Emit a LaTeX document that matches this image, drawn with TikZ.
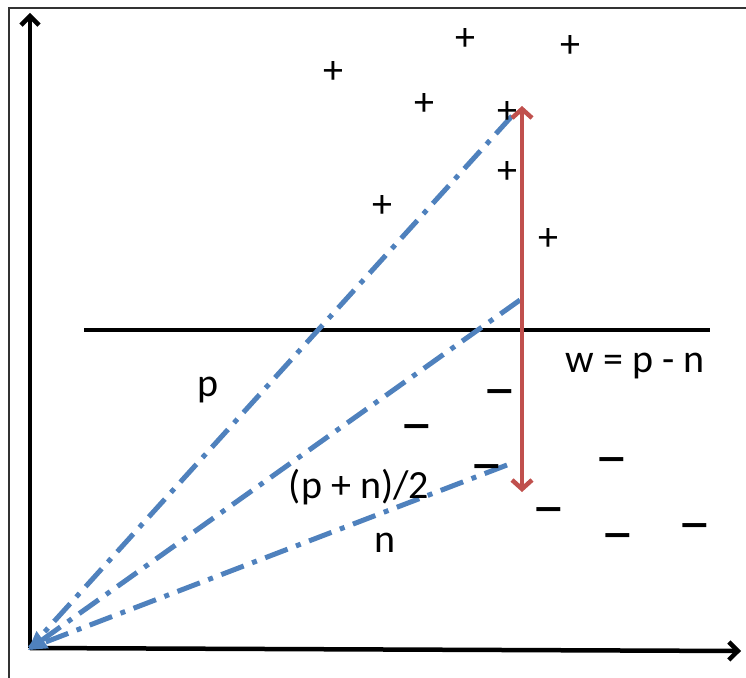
\documentclass[tikz,border=0pt]{standalone}
\usepackage{fontspec}
\setmainfont{Carlito}
\usetikzlibrary{arrows.meta}
\definecolor{offblue}{RGB}{79,129,189}
\definecolor{offred}{RGB}{192,80,77}
\tikzset{
  axis/.style={line width=4.5pt, -{Straight Barb[length=9pt,width=18pt,line width=4.5pt]}},
  vec/.style={offblue, line width=5pt, dash pattern=on 24pt off 9pt on 5pt off 9pt},
  lbl/.style={font=\fontsize{40}{44}\selectfont, inner sep=0pt},
  sym/.style={font=\fontsize{40}{44}\selectfont, inner sep=0pt},
  msym/.style={font=\fontsize{44}{48}\selectfont\bfseries, inner sep=0pt, xscale=1.4, yshift=-8pt}
}
\begin{document}
\begin{tikzpicture}[x=1pt,y=-1pt]
\useasboundingbox (0,0) rectangle (746,677);
% frame
\draw[line width=2pt, black!80] (9,690) -- (9,8) -- (760,8);
% axes
\coordinate (O) at (30,648);
\coordinate (Ytip) at (30,13);
\coordinate (Xtip) at (741,651);
\draw[axis] (O) -- (Ytip);
\draw[axis] (O) -- (Xtip);
% separating line
\coordinate (hl1) at (84,330);
\coordinate (hl2) at (710,330);
\draw[line width=4.5pt] (hl1) -- (hl2);
% vectors
\coordinate (P) at (512,116);
\coordinate (M) at (520,300);
\coordinate (N) at (507,465);
\draw[vec] (P) -- (O);
\draw[vec, -{Triangle[length=18pt,width=20pt]}] (M) -- ([shift={(-2,2)}]O);
\draw[vec] (N) -- (O);
% red arrow
\coordinate (R1) at (522,106);
\coordinate (R2) at (522,492);
\draw[offred, line width=4.5pt, {Straight Barb[length=9pt,width=20pt,line width=4.5pt]}-{Straight Barb[length=9pt,width=20pt,line width=4.5pt]}] (R1) -- (R2);
% plus signs
\foreach \n/\x/\y in {a/333/73, b/465/40, c/570/47, d/424/105, e/507/113, f/507/173, g/382/207, h/548/240}
  \node[sym] (plus\n) at (\x,\y) {+};
% minus signs
\foreach \n/\x/\y in {a/500/390, b/417/425, c/612/458, d/487/465, e/549/508, f/618/534, g/695/524}
  \node[msym] (minus\n) at (\x,\y) {−};
% labels
\node[lbl] (lp) at (208,390) {p};
\node[lbl] (lm) at (359,487) {(p + n)/2};
\node[lbl] (ln) at (385,543) {n};
\node[lbl] (lw) at (635,366) {w = p - n};
\end{tikzpicture}
\end{document}
